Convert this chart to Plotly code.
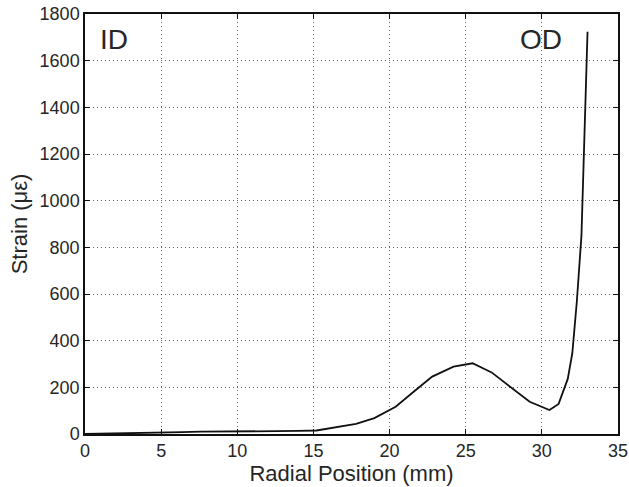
import plotly.graph_objects as go

radial_mm = [0, 1.3, 2.5, 3.8, 5.1, 6.4, 7.6, 8.9, 10.2, 11.4, 12.7, 14.0, 15.2,
             16.4, 17.8, 19.0, 20.4, 21.6, 22.8, 24.2, 25.45, 26.7, 27.9, 29.2,
             30.5, 31.1, 31.7, 32.0, 32.3, 32.6, 33.0]
strain_ue = [0, 1, 3, 5, 7, 8, 10, 10, 11, 12, 13, 13, 15,
             29, 43, 68, 117, 182, 246, 289, 303, 264, 203, 138,
             103, 129, 236, 346, 570, 850, 1724]

x_ticks = [0, 5, 10, 15, 20, 25, 30, 35]
y_ticks = [0, 200, 400, 600, 800, 1000, 1200, 1400, 1600, 1800]

font_family = "Liberation Sans, Arial, Helvetica, sans-serif"
text_color = "#262626"

fig = go.Figure()
fig.add_trace(go.Scatter(x=radial_mm, y=strain_ue, mode="lines",
                         line=dict(color="#111", width=1.8), showlegend=False))

axis_common = dict(
    showgrid=True, gridcolor="rgba(0,0,0,0.6)", griddash="1px,3px", gridwidth=1,
    showline=True, linecolor="#111", linewidth=1.5, mirror="ticks",
    ticks="inside", ticklen=5, tickcolor="#111", tickwidth=1,
    zeroline=False, automargin=False,
    tickfont=dict(size=18, color=text_color, family=font_family),
)

fig.update_xaxes(range=[0, 35], tickvals=x_ticks,
                 title=dict(text="Radial Position (mm)", standoff=1,
                            font=dict(size=22, color=text_color, family=font_family)),
                 **axis_common)
fig.update_yaxes(range=[0, 1800], tickvals=y_ticks,
                 title=dict(text="Strain (\u03bc\u03b5)", standoff=6,
                            font=dict(size=22, color=text_color, family=font_family)),
                 **axis_common)

fig.add_annotation(x=0.026, y=0.94, xref="paper", yref="paper", text="ID",
                   showarrow=False, xanchor="left", yanchor="middle",
                   borderpad=0, font=dict(size=28, color=text_color, family=font_family))
fig.add_annotation(x=0.897, y=0.94, xref="paper", yref="paper", text="OD",
                   showarrow=False, xanchor="right", yanchor="middle",
                   borderpad=0, font=dict(size=28, color=text_color, family=font_family))

fig.update_layout(width=629, height=487, margin=dict(l=85, r=11, t=14, b=53),
                  plot_bgcolor="white", paper_bgcolor="white",
                  font=dict(family=font_family))

fig.write_html("out.html")
